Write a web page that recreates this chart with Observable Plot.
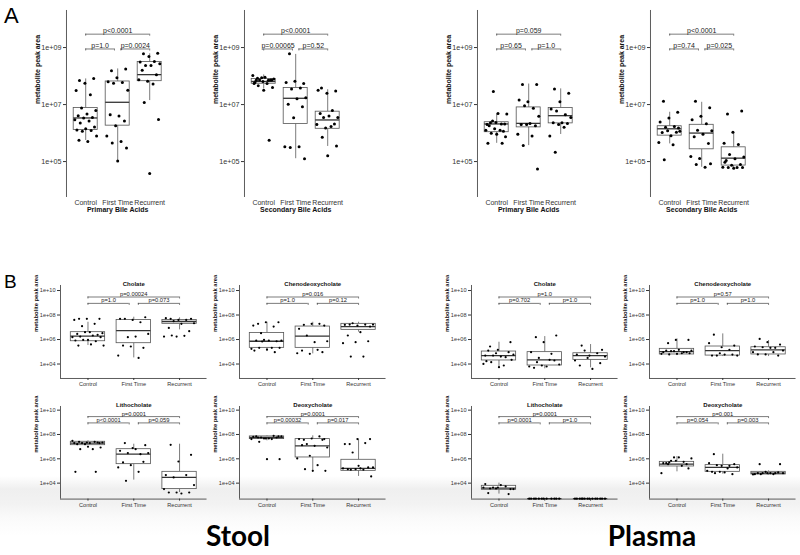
<!DOCTYPE html>
<html><head><meta charset="utf-8">
<script src="https://cdn.jsdelivr.net/npm/d3@7"></script>
<script src="https://cdn.jsdelivr.net/npm/@observablehq/plot@0.6"></script>
<style>
body{margin:0;background:#fff;font-family:"Liberation Sans",Arial,sans-serif}
#page{position:relative;width:800px;height:555px;overflow:hidden;background:#fff}
.lab{position:absolute;color:#000;line-height:1}
</style></head><body><div id="page"></div>
<script>
// ---------- data (log10 of metabolite peak area) ----------
const groups = ["Control", "First Time", "Recurrent"];
const aTicks = [5, 7, 9];
const bTicks = [4, 6, 8, 10];
const aXTitles = ["Primary Bile Acids", "Secondary Bile Acids", "Primary Bile Acids", "Secondary Bile Acids"];
const bTitles = ["Cholate", "Chenodeoxycholate", "Cholate", "Chenodeoxycholate", "Lithocholate", "Deoxycholate", "Lithocholate", "Deoxycholate"];
const sampleLabels = ["Stool", "Plasma"];

// A1 stool primary
const a1Control = [7.84,7.91,7.75,7.49,7.34,6.88,6.79,6.67,6.61,6.55,6.53,6.47,6.42,6.35,6.21,6.15,6.11,6.09,6.06,5.9,5.7,5.75];
const a1FirstTime = [8.19,8.25,7.94,7.8,7.77,7.75,7.5,6.6,6.64,6.42,6.26,5.9,5.7,5.65,5.48,5.02];
const a1Recurrent = [8.78,8.8,8.69,8.49,8.51,8.37,8.43,8.37,8.2,8.05,7.82,7.87,7.72,7.07,6.48,4.58];
const a1Boxes = [[5.74,6.11,6.53,6.88,7.9],[5.02,6.26,7.08,7.81,8.25],[7.14,7.82,8.05,8.49,8.78]];
const a1P = ["p<0.0001","p=1.0","p=0.0024"];
// A2 stool secondary
const a2Control = [7.92,7.86,7.81,7.74,7.85,7.86,7.9,7.96,7.85,7.86,7.94,8.02,7.74,7.66,7.6,7.5,7.77,5.75];
const a2FirstTime = [8.78,7.74,7.82,7.77,7.58,7.55,7.24,7.2,7.01,6.92,6.54,5.52,5.52,5.49,5.1];
const a2Recurrent = [7.58,7.48,7.4,7.5,6.79,6.55,6.55,6.6,6.69,6.32,6.18,6.3,6.23,5.85,5.55,5.2];
const a2Boxes = [[7.55,7.73,7.81,7.9,8.04],[5.1,6.32,7.22,7.58,8.76],[5.53,6.15,6.46,6.75,7.52]];
const a2P = ["p<0.0001","p=0.00065","p=0.52"];
// A3 plasma primary
const a3Control = [6.36,6.32,6.37,6.3,6.32,6.42,6.67,6.69,6.26,6.06,6.15,6.1,6.1,5.99,5.87,5.96,5.64,5.64,7.46];
const a3FirstTime = [7.7,7.7,7.1,7.16,6.87,6.96,6.59,6.34,6.3,6.26,6.3,5.96,5.9,5.56,4.74];
const a3Recurrent = [7.55,7.4,7.1,6.84,6.64,6.77,6.55,6.36,6.36,6.34,6.3,5.9,6.2,5.33];
const a3Boxes = [[5.64,6.03,6.32,6.38,6.67],[5.56,6.2,6.34,6.9,7.72],[5.95,6.34,6.61,6.88,7.55]];
const a3P = ["p=0.059","p=0.65","p=1.0"];
// A4 plasma secondary
const a4Control = [7.12,6.73,6.53,6.39,6.23,6.2,6.06,5.91,6.02,6.03,6.08,5.67,5.59,5.06,6.18];
const a4FirstTime = [7.12,6.89,6.59,6.47,6.33,6.1,6.08,5.96,5.87,5.63,5.11,5.18,4.8,4.9,4.92];
const a4Recurrent = [6.67,6.77,6.03,5.64,5.6,5.25,5.16,5.1,5.04,4.9,4.87,4.8,4.79,4.79,4.79,4.77,4.98];
const a4Boxes = [[5.62,5.91,6.15,6.24,6.73],[4.8,5.43,6.0,6.29,7.08],[4.77,4.86,5.12,5.5,6.03]];
const a4P = ["p<0.0001","p=0.74","p=0.025"];

// B1 stool cholate
const b1Control = [7.69,7.69,7.69,7.6,7.28,7.09,6.52,6.6,6.46,6.38,6.6,6.19,6.33,6.24,6.19,5.97,5.92,5.86,5.97,5.51,5.6,5.51];
const b1FirstTime = [7.69,7.82,7.6,7.69,7.41,6.19,6.46,6.24,5.51,5.32,5.43,4.69,4.5];
const b1Recurrent = [7.69,7.69,7.6,7.74,7.6,7.5,7.33,7.28,6.95,6.68,6.24,6.24,6.3,6.33];
const b1Boxes = [[5.51,5.86,6.27,6.6,7.41],[4.5,5.7,6.73,7.6,7.82],[6.79,7.28,7.47,7.6,7.77]];
const b1P = ["p=0.00024","p=1.0","p=0.073"];
// B2 stool chenodeoxycholate
const b2Control = [7.28,7.41,7.41,7.14,7.06,6.52,5.92,5.92,5.92,5.86,5.97,5.24,5.32,5.32,5.32,5.18,5.1,4.97,5.84];
const b2FirstTime = [7.2,7.14,7.28,6.87,7.28,6.33,5.86,5.78,5.1,4.97,4.83,4.88,5.16];
const b2Recurrent = [7.22,7.06,7.14,7.2,7.22,7.33,7.22,6.6,6.33,5.86,5.78,5.7,4.61,4.61];
const b2Boxes = [[5.02,5.32,5.86,6.54,7.41],[4.83,5.32,6.27,7.06,7.41],[6.6,6.79,7.06,7.28,7.41]];
const b2P = ["p=0.016","p=1.0","p=0.12"];
// B3 plasma cholate
const b3Control = [5.43,5.78,5.16,4.69,4.56,4.69,4.77,4.61,5.1,4.97,4.88,4.01,3.88,4.15,4.34,3.74,4.23];
const b3FirstTime = [6.19,6.33,5.78,4.97,4.83,4.5,3.96,3.8,3.69,4.29,3.88,3.8,4.34,4.15];
const b3Recurrent = [5.51,5.16,4.69,4.77,4.88,5.1,4.61,3.6,3.88,4.07,4.5,4.29];
const b3Boxes = [[3.74,4.29,4.69,5.02,5.78],[3.61,3.88,4.34,4.97,6.24],[3.69,4.34,4.69,4.88,5.59]];
const b3P = ["p=1.0","p=0.702","p=1.0"];
// B4 plasma chenodeoxycholate
const b4Control = [5.7,5.97,5.97,4.97,4.97,5.05,5.1,5.16,5.1,4.97,5.05,4.83,4.88,4.78,4.88,4.83];
const b4FirstTime = [6.4,5.51,5.37,5.7,5.16,4.69,4.69,4.77,4.69,4.77,4.88];
const b4Recurrent = [6.05,5.59,5.78,5.43,5.32,5.37,5.1,5.32,4.78,4.69,4.78,4.97,4.97];
const b4Boxes = [[4.69,4.78,5.02,5.24,6.05],[4.61,4.69,5.1,5.43,6.46],[4.61,4.78,5.16,5.37,5.92]];
const b4P = ["p=0.57","p=1.0","p=1.0"];
// B5 stool lithocholate
const b5Control = [7.4,7.29,7.34,7.29,7.4,7.29,7.34,7.29,7.2,7.34,7.2,7.48,6.79,6.79,6.93,6.99,4.93,4.93];
const b5FirstTime = [7.29,7.12,6.88,6.66,6.38,6.47,6.47,6.79,5.7,5.75,5.48,5.29,4.93,4.19];
const b5Recurrent = [7.15,6.33,5.78,4.66,4.66,4.47,3.84,3.15,3.23,3.23,3.23,3.51];
const b5Boxes = [[7.07,7.12,7.29,7.4,7.48],[4.25,5.56,6.38,6.79,7.2],[3.23,3.51,4.47,4.93,7.2]];
const b5P = ["p=0.0001","p<0.0001","p=0.059"];
// B6 stool deoxycholate
const b6Control = [7.75,7.84,7.67,7.81,7.89,7.75,7.84,7.67,7.84,7.75,7.67,7.62,7.62,7.4,5.97,5.97];
const b6FirstTime = [7.56,7.62,7.67,7.62,7.84,7.21,6.93,7.07,7.12,7.56,6.25,6.03,5.48,5.15,5.01,5.01];
const b6Recurrent = [7.21,7.62,7.62,7.21,7.29,6.52,5.29,5.21,5.15,5.29,5.15,5.21,5.1,5.1,4.55,5.42];
const b6Boxes = [[7.48,7.62,7.75,7.84,7.89],[5.01,6.11,7.07,7.62,7.89],[4.55,5.01,5.21,5.92,7.62]];
const b6P = ["p=0.0001","p=0.00032","p=0.017"];
// B7 plasma lithocholate
const b7Control = [3.56,3.51,3.64,3.92,3.73,3.64,3.51,3.84,3.18,3.1,3.56,3.64];
const b7FirstTime = [2.72,2.72,2.72,2.72,2.72,2.72,2.72,2.72,2.72,2.72,2.72,2.72];
const b7Recurrent = [2.72,2.72,2.72,2.72,2.72,2.72,2.72,2.72,2.72,2.72,2.72,2.72,2.72,2.72];
const b7Boxes = [[3.1,3.45,3.59,3.78,4.0],[2.72,2.72,2.72,2.72,2.72],[2.72,2.72,2.72,2.72,2.72]];
const b7P = ["p=0.0001","p=0.0001","p=1.0"];
// B8 plasma deoxycholate
const b8Control = [5.56,5.21,5.84,5.64,5.75,5.84,6.03,6.11,5.64,5.56,6.11,4.82,5.42,5.7];
const b8FirstTime = [6.38,5.56,5.42,5.64,5.42,5.48,5.29,4.88,4.93,4.74,4.93,5.01,5.21,4.82];
const b8Recurrent = [5.56,5.56,4.82,4.74,4.82,4.82,4.82,4.82,4.82,4.88,4.93,4.71,4.74,4.74];
const b8Boxes = [[4.93,5.37,5.56,5.75,6.19],[4.74,4.93,5.29,5.48,6.38],[4.66,4.71,4.82,4.93,5.01]];
const b8P = ["p=0.001","p=0.054","p=0.003"];

// ---------- drawing ----------
const page = document.getElementById("page");
const FONT = "'Liberation Sans', Arial, sans-serif";
const fmtExp = d => "1e+" + String(Math.round(Math.log10(d))).padStart(2, "0");
const jit = i => (((i * 0.618034 + 0.23) % 1) - 0.5) * 0.72;

const styleA = {mL: 36, mR: 4, mT: 10, mB: 24, tf: 7.2, xf: 7, xts: 0, xtp: 3, pf: 7, yl: 7, r: 1.5, xLine: false, ylDx: -29};
const styleB = {mL: 30, mR: 2, mT: 14, mB: 12, tf: 5.6, xf: 5.6, xts: 2, xtp: 2, pf: 5.8, yl: 5.8, r: 1.1, xLine: true, ylDx: -24, titf: 6};

function panel(c) {
  const st = c.st;
  const fw = c.spacing * 3.2;
  const width = fw + st.mL + st.mR, height = c.fb - c.ft + st.mT + st.mB;
  const pxDec = (c.fb - c.ft) / (c.logTop - c.logBot);
  const dots = c.pts.flatMap((arr, g) => arr.map((v, i) => ({x: g + jit(i), y: 10 ** v})));
  const bx = c.boxes.map((b, g) => ({g, lo: 10 ** b[0], q1: 10 ** b[1], med: 10 ** b[2], q3: 10 ** b[3], hi: 10 ** b[4]}));
  const yTop = 10 ** 9.47, yLow = 10 ** 8.95;
  const br = [{x1: 0, x2: 2, y: yTop, t: c.pvals[0]}, {x1: 0, x2: 0.9, y: yLow, t: c.pvals[1]}, {x1: 1.1, x2: 2, y: yLow, t: c.pvals[2]}];
  const ends = br.flatMap(b => [{x: b.x1, y: b.y}, {x: b.x2, y: b.y}]);
  const drop = 10 ** (-2 / pxDec);
  const half = 0.375;
  const marks = [
    Plot.ruleX([-0.6], {stroke: "#333", strokeWidth: 0.8}),
    st.xLine ? Plot.ruleY([10 ** c.logBot], {stroke: "#333", strokeWidth: 0.8}) : null,
    Plot.axisY(c.ticks.map(e => 10 ** e), {tickFormat: fmtExp, tickSize: 3, tickPadding: 2, fontSize: st.tf, color: "#333", label: null}),
    Plot.axisX([0, 1, 2], {tickFormat: i => groups[i], tickSize: st.xts, tickPadding: st.xtp, fontSize: st.xf, color: "#333", label: null}),
    Plot.ruleX(bx, {x: "g", y1: "lo", y2: "q1", stroke: "#444", strokeWidth: 0.7}),
    Plot.ruleX(bx, {x: "g", y1: "q3", y2: "hi", stroke: "#444", strokeWidth: 0.7}),
    Plot.rect(bx, {x1: d => d.g - half, x2: d => d.g + half, y1: "q1", y2: "q3", fill: "white", stroke: "#555", strokeWidth: 0.8}),
    Plot.ruleY(bx, {y: "med", x1: d => d.g - half, x2: d => d.g + half, stroke: "#333", strokeWidth: 1.3}),
    Plot.dot(dots, {x: "x", y: "y", r: st.r, fill: "black", stroke: "none"}),
    Plot.ruleY(br, {y: "y", x1: "x1", x2: "x2", stroke: "#444", strokeWidth: 0.7}),
    Plot.ruleX(ends, {x: "x", y1: "y", y2: d => d.y * drop, stroke: "#444", strokeWidth: 0.7}),
    Plot.text(br, {x: d => (d.x1 + d.x2) / 2, y: "y", text: "t", dy: -1, lineAnchor: "bottom", fontSize: st.pf, fill: "#222"}),
    Plot.text(["metabolite peak area"], {frameAnchor: "left", rotate: -90, dx: st.ylDx, fontWeight: "bold", fontSize: st.yl, fill: "#111"}),
    c.title ? Plot.text([c.title], {frameAnchor: "top", dy: -3.5, fontWeight: "bold", fontSize: st.titf, fill: "#111"}) : null,
    c.xTitle ? Plot.text([c.xTitle], {frameAnchor: "bottom", dy: 15, fontWeight: "bold", fontSize: 7, fill: "#111"}) : null
  ].filter(Boolean);
  const svg = Plot.plot({
    width, height,
    marginLeft: st.mL, marginRight: st.mR, marginTop: st.mT, marginBottom: st.mB,
    x: {type: "linear", domain: [-0.6, 2.6]},
    y: {type: "log", domain: [10 ** c.logBot, 10 ** c.logTop]},
    style: {background: "transparent", fontFamily: FONT, overflow: "visible"},
    marks
  });
  svg.style.position = "absolute";
  svg.style.left = (c.fl - st.mL) + "px";
  svg.style.top = (c.ft - st.mT) + "px";
  svg.style.maxWidth = "none";
  page.appendChild(svg);
}

// soft grey band at the bottom of the figure
const shade = document.createElement("div");
shade.style.cssText = "position:absolute;left:0;top:476px;width:800px;height:60px;background:linear-gradient(#fff 0%,#efefef 22%,#f2f2f2 45%,#fafafa 70%,#fff 100%)";
page.appendChild(shade);

const aPanels = [
  {fl: 66, pts: [a1Control, a1FirstTime, a1Recurrent], boxes: a1Boxes, pvals: a1P},
  {fl: 244, pts: [a2Control, a2FirstTime, a2Recurrent], boxes: a2Boxes, pvals: a2P},
  {fl: 477, pts: [a3Control, a3FirstTime, a3Recurrent], boxes: a3Boxes, pvals: a3P},
  {fl: 650, pts: [a4Control, a4FirstTime, a4Recurrent], boxes: a4Boxes, pvals: a4P}
];
aPanels.forEach((p, k) => panel({...p, spacing: 32, ft: 10, fb: 197, logBot: 3.74, logTop: 10.30, ticks: aTicks, xTitle: aXTitles[k], st: styleA}));

const bPts = [
  [[b1Control, b1FirstTime, b1Recurrent], b1Boxes, b1P],
  [[b2Control, b2FirstTime, b2Recurrent], b2Boxes, b2P],
  [[b3Control, b3FirstTime, b3Recurrent], b3Boxes, b3P],
  [[b4Control, b4FirstTime, b4Recurrent], b4Boxes, b4P],
  [[b5Control, b5FirstTime, b5Recurrent], b5Boxes, b5P],
  [[b6Control, b6FirstTime, b6Recurrent], b6Boxes, b6P],
  [[b7Control, b7FirstTime, b7Recurrent], b7Boxes, b7P],
  [[b8Control, b8FirstTime, b8Recurrent], b8Boxes, b8P]
];
const bLeft = [60, 239, 471, 649];
bPts.forEach(([pts, boxes, pvals], k) => {
  const row = k < 4 ? 0 : 1;
  const rowCfg = row === 0 ? {ft: 285, fb: 378, logBot: 2.82, logTop: 10.41} : {ft: 405.7, fb: 498.3, logBot: 2.69, logTop: 10.30};
  panel({fl: bLeft[k % 4], spacing: 45.8, ...rowCfg, ticks: bTicks, pts, boxes, pvals, title: bTitles[k], st: styleB});
});

function label(text, css) {
  const d = document.createElement("div");
  d.className = "lab";
  d.textContent = text;
  d.style.cssText += css;
  page.appendChild(d);
}
label("A", "left:4px;top:5px;font-size:22px;");
label("B", "left:4px;top:272px;font-size:19px;");
label(sampleLabels[0], "left:178px;top:519px;width:120px;text-align:center;font-family:Lato,'Open Sans',sans-serif;font-weight:bold;font-size:28px;line-height:32px;");
label(sampleLabels[1], "left:592px;top:519px;width:120px;text-align:center;font-family:Lato,'Open Sans',sans-serif;font-weight:bold;font-size:28px;line-height:32px;");
</script>
</body></html>
